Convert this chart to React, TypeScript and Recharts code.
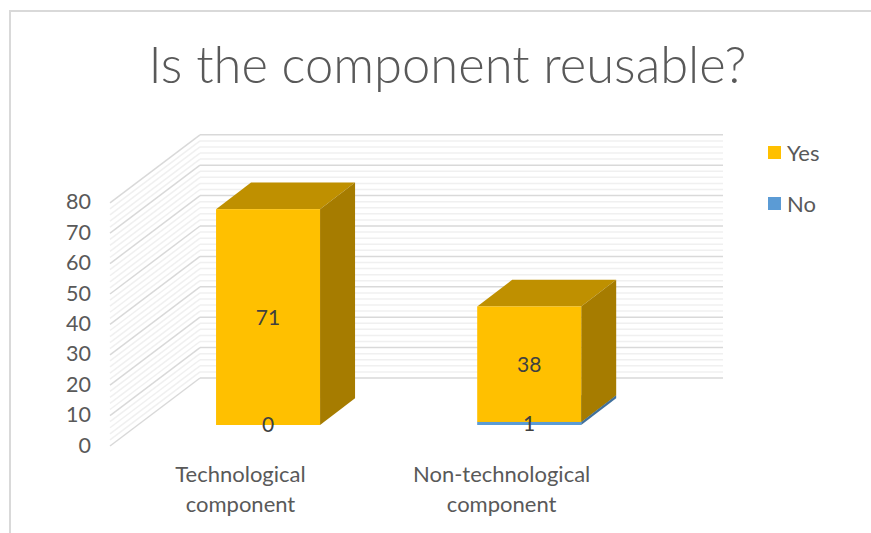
import { BarChart, Bar, XAxis, YAxis, CartesianGrid, Legend, LabelList } from "recharts";

const categories = ["Technological component", "Non-technological component"];
const yesValues = [71, 38];
const noValues = [0, 1];
const yTicks = [0, 10, 20, 30, 40, 50, 60, 70, 80];
const gridValues = [0, 2, 4, 6, 8, 10, 12, 14, 16, 18, 20, 22, 24, 26, 28, 30, 32, 34, 36, 38, 40, 42, 44, 46, 48, 50, 52, 54, 56, 58, 60, 62, 64, 66, 68, 70, 72, 74, 76, 78, 80];

const data = categories.map((name, i) => ({ name, Yes: yesValues[i], No: noValues[i] }));

const font = "Lato, 'Open Sans', sans-serif";
const textColor = "#595959";
const depthX = 35;
const depthY = 26.7;

function box(front: string, top: string, side: string) {
  return (props: any) => {
    const { x, y, width, height } = props;
    if (!height || height <= 0) return <g />;
    const r = x + width;
    const b = y + height;
    return (
      <g>
        <polygon points={`${x},${y} ${x + depthX},${y - depthY} ${r + depthX},${y - depthY} ${r},${y}`} fill={top} />
        <polygon points={`${r},${y} ${r + depthX},${y - depthY} ${r + depthX},${b - depthY} ${r},${b}`} fill={side} />
        <rect x={x} y={y} width={width} height={height} fill={front} />
      </g>
    );
  };
}

// back wall + side wall line for each grid value
function gridLine(props: any) {
  const major = props.index % 5 === 0;
  const y = props.y1;
  const stroke = major ? "#d9d9d9" : "#f0f0f0";
  return (
    <g key={props.index}>
      <line x1={110} y1={y + 21} x2={200} y2={y - 47} stroke={stroke} strokeWidth={1.5} />
      <line x1={200} y1={y - 47} x2={723} y2={y - 47} stroke={stroke} strokeWidth={1.5} />
    </g>
  );
}

function YTick({ y, payload }: any) {
  return (
    <text x={91} y={y + 20} dy="0.35em" textAnchor="end" fontFamily={font} fontSize={21.5} fill={textColor}>
      {payload.value}
    </text>
  );
}

function XTick({ x, payload }: any) {
  const words = String(payload.value).split(" ");
  return (
    <text textAnchor="middle" fontFamily={font} fontSize={22} fill={textColor}>
      <tspan x={x - 27.8} y={482}>{words[0]}</tspan>
      <tspan x={x - 27.8} y={512}>{words[1]}</tspan>
    </text>
  );
}

function LegendBox() {
  const items = [
    { name: "Yes", color: "#ffc000" },
    { name: "No", color: "#5b9bd5" },
  ];
  return (
    <div>
      {items.map((it) => (
        <div key={it.name} style={{ display: "flex", alignItems: "center", height: 51, fontFamily: font, fontSize: 22, color: textColor }}>
          <span style={{ width: 13, height: 13, background: it.color, marginRight: 6 }} />
          {it.name}
        </div>
      ))}
    </div>
  );
}

export default function App() {
  return (
    <div style={{ position: "absolute", left: 0, top: 0, width: 871, height: 533, overflow: "hidden", background: "#fff" }}>
      <div style={{ position: "absolute", left: 9, top: 10, width: 880, height: 540, border: "2px solid #d9d9d9" }} />
      <div style={{ position: "absolute", left: 0, top: 29, width: 895, textAlign: "center", fontFamily: font, fontWeight: 300, fontSize: 50.7, color: textColor, lineHeight: "70px" }}>
        Is the component reusable?
      </div>
      <div style={{ position: "absolute", left: 0, top: 0 }}>
        <BarChart
          width={871}
          height={533}
          data={data}
          barCategoryGap="30%"
          margin={{ top: 181.8, right: 211, bottom: 48, left: 77.7 }}
        >
          <CartesianGrid vertical={false} horizontalValues={gridValues} horizontal={gridLine} />
          <XAxis dataKey="name" axisLine={false} tickLine={false} interval={0} tick={<XTick />} height={60} />
          <YAxis domain={[0, 80]} ticks={yTicks} interval={0} axisLine={false} tickLine={false} tick={<YTick />} width={60} />
          <Legend content={<LegendBox />} layout="vertical" align="center" verticalAlign="middle" wrapperStyle={{ left: 768, top: 127, width: 90 }} />
          <Bar dataKey="No" stackId="a" isAnimationActive={false} shape={box("#5b9bd5", "#4a7fb0", "#41719c")}>
            <LabelList dataKey="No" position="center" fontFamily={font} fontSize={21} fill="#404040" />
          </Bar>
          <Bar dataKey="Yes" stackId="a" isAnimationActive={false} shape={box("#ffc000", "#bf9000", "#a67c00")}>
            <LabelList dataKey="Yes" position="center" fontFamily={font} fontSize={21} fill="#404040" />
          </Bar>
        </BarChart>
      </div>
    </div>
  );
}
